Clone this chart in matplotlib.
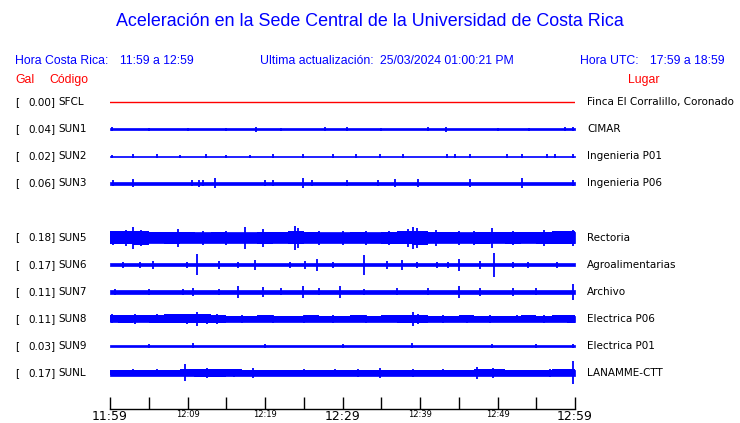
import matplotlib
matplotlib.use("Agg")
import matplotlib.pyplot as plt
from matplotlib.transforms import blended_transform_factory

# stations, top to bottom (row 4 is an empty slot, SUN4 not shown)
rows = [0, 1, 2, 3, 5, 6, 7, 8, 9, 10]
codes = ["SFCL", "SUN1", "SUN2", "SUN3", "SUN5", "SUN6", "SUN7", "SUN8", "SUN9", "SUNL"]
peaks = ["0.00", "0.04", "0.02", "0.06", "0.18", "0.17", "0.11", "0.11", "0.03", "0.17"]
places = ["Finca El Corralillo, Coronado", "CIMAR", "Ingenieria P01", "Ingenieria P06",
          "Rectoria", "Agroalimentarias", "Archivo", "Electrica P06", "Electrica P01",
          "LANAMME-CTT"]

# background noise half-width of each trace (pixels on the reference)
base = [0, 1.2, 0.6, 1.8, 5.5, 1.7, 2.2, 3.0, 1.3, 2.6]

# coarser envelope of the noisier traces, one value every 2 minutes (0..60)
env_minutes = list(range(0, 61, 2))
envelope = {
    "SUN5": [6.5, 6.5, 7.0, 5.5, 6.0, 5.5, 5.0, 5.5, 4.5, 5.0, 6.0, 5.5, 6.5, 5.5, 5.0, 5.0,
             5.5, 5.0, 6.0, 6.5, 7.0, 5.5, 5.5, 5.0, 6.0, 5.5, 6.0, 5.5, 6.0, 6.5, 6.5],
    "SUN8": [3.5, 4.0, 3.5, 4.0, 4.5, 4.5, 4.5, 4.0, 3.0, 3.0, 3.5, 3.0, 3.0, 3.5, 3.0, 3.0,
             3.5, 3.0, 3.5, 4.0, 4.0, 3.0, 3.0, 3.5, 3.0, 3.0, 3.0, 3.5, 3.0, 3.5, 4.0],
    "SUNL": [2.5, 2.5, 2.5, 2.5, 3.0, 3.5, 4.0, 4.0, 3.5, 3.0, 2.5, 3.0, 2.5, 2.5, 2.5, 3.0,
             3.0, 3.0, 3.0, 2.5, 2.5, 2.5, 2.5, 3.0, 3.5, 3.5, 3.0, 2.5, 3.0, 3.5, 3.5],
}

# bursts: (minutes after 11:59, half-amplitude in pixels)
bursts = {
    "SUN1": [(0.2, 1.8), (5, 1.6), (10, 1.6), (15, 1.5), (18.8, 2.5), (22, 1.6), (27.7, 2),
             (30.6, 2), (35, 1.6), (41.0, 2), (43.4, 2.5), (50, 1.6), (54, 1.6), (58.7, 1.8),
             (59.8, 1.8)],
    "SUN2": [(0.3, 1.3), (3.0, 2), (6.1, 2), (9, 1.4), (12.4, 2), (15, 1.4), (18, 1.4),
             (21.0, 2), (24.9, 2), (28.8, 2), (31.7, 2), (34.8, 2), (37.8, 2), (43.5, 2),
             (44.5, 2), (46.5, 2), (51.2, 2), (53.2, 2), (56.4, 2), (57.4, 2), (59.8, 2)],
    "SUN3": [(0.4, 3), (3.0, 4), (10.6, 3), (11.5, 3.5), (12, 3), (13.5, 5), (20, 3), (21.0, 3),
             (24.9, 5), (26, 3), (30.6, 3), (34.6, 3), (36.8, 4), (39.7, 4), (46.5, 4),
             (53.2, 5), (59.8, 3)],
    "SUN5": [(0.4, 7), (2, 8), (3.0, 11), (4, 8), (8.8, 9), (12, 7), (15, 7), (17.4, 11),
             (19.7, 9), (23.9, 12), (24.2, 10), (27, 7), (30, 7), (33, 7), (36, 7), (38.5, 9),
             (39.1, 11), (39.6, 10), (42, 8), (45, 7), (47, 7), (49.3, 10), (52, 7), (56, 8),
             (59.8, 8)],
    "SUN6": [(1.7, 3), (3.9, 3), (5.5, 4), (9.9, 3), (11.2, 10.5), (14.1, 4), (16.5, 3),
             (18.7, 5), (23.2, 3), (25.2, 4), (26.7, 6), (28.8, 3), (32.8, 10), (35.7, 4),
             (37.7, 5), (39.6, 3), (42.2, 3), (43.6, 3), (45.0, 6), (47.7, 4), (49.5, 12),
             (52.0, 3), (53.9, 3), (57.7, 3)],
    "SUN7": [(0.6, 3), (5, 3), (9.4, 3), (10.7, 4), (14, 3), (16.5, 6), (19.7, 5), (22, 3.5),
             (24.9, 6), (27, 3.5), (29.7, 6), (32.8, 3), (37, 3.5), (41, 3.5), (45.0, 6),
             (47.7, 4), (52.0, 4), (55, 3.5), (59.7, 8)],
    "SUN8": [(0.3, 4.5), (3.2, 5), (6.1, 4.5), (8, 4.5), (9.9, 5), (11.2, 7), (12.5, 5),
             (13.8, 5), (17, 4), (21.0, 4), (25, 4), (28.8, 4), (33, 4), (39.1, 7), (39.7, 5),
             (43, 4), (46.1, 4), (49, 4), (52.5, 3.5), (56, 4), (59.4, 4)],
    "SUN9": [(5, 1.8), (10.7, 2.5), (20, 1.8), (30, 1.8), (39.0, 2.5), (49.3, 2), (55, 1.8),
             (59.8, 1.8)],
    "SUNL": [(3, 3.5), (6, 3.5), (9.7, 8.5), (11, 4), (12.5, 5), (14, 4), (16, 4), (18.5, 5),
             (25, 3.5), (29, 3.5), (32.0, 4), (34.8, 5), (39.1, 4), (43, 3.5), (47.4, 6),
             (49.4, 5), (53.2, 3), (56.8, 4), (59.8, 11.5)],
}

tick_minutes = list(range(0, 61, 5))
tick_text = {0: "11:59", 10: "12:09", 20: "12:19", 30: "12:29", 40: "12:39", 50: "12:49", 60: "12:59"}

BLUE = "#0000ff"
RED = "#ff0000"
ROW_PX = 27.1  # pixels between two rows on the reference

W, H = 740, 423
fig = plt.figure(figsize=(W / 100, H / 100), dpi=100)
ax = fig.add_axes([110 / W, 1 - 409 / H, 465 / W, (409 - 88) / H])
ax.set_xlim(0, 60)
ax.set_ylim(11.33, -0.52)

for r, code, b in zip(rows, codes, base):
    if code == "SFCL":
        ax.plot([0, 60], [r, r], color=RED, lw=1)
        continue
    h = b / ROW_PX
    ax.fill_between([0, 60], r - h, r + h, color=BLUE, lw=0.5, edgecolor=BLUE)
    if code in envelope:
        e = [v / ROW_PX for v in envelope[code]]
        ax.fill_between(env_minutes, [r - v for v in e], [r + v for v in e],
                        step="mid", color=BLUE, lw=0)
    bt = [t for t, a in bursts.get(code, [])]
    ba = [a / ROW_PX for t, a in bursts.get(code, [])]
    ax.vlines(bt, [r - a for a in ba], [r + a for a in ba], color=BLUE, lw=1.3)

for s in ["top", "left", "right"]:
    ax.spines[s].set_visible(False)
ax.spines["bottom"].set_linewidth(1)
ax.set_yticks([])
ax.set_xticks(tick_minutes)
ax.set_xticklabels([tick_text.get(m, "") for m in tick_minutes])
ax.tick_params(axis="x", direction="in", length=9, width=1, pad=1)
for m, lab in zip(tick_minutes, ax.get_xticklabels()):
    lab.set_fontsize(9 if m in (0, 30, 60) else 6)

# row labels
tr = blended_transform_factory(fig.transFigure, ax.transData)
for r, code, pk, place in zip(rows, codes, peaks, places):
    ax.text(15 / W, r, "[", transform=tr, fontsize=7.5, va="center", ha="left")
    ax.text(28 / W, r, pk + "]", transform=tr, fontsize=7.5, va="center", ha="left")
    ax.text(58 / W, r, code, transform=tr, fontsize=7.5, va="center", ha="left")
    ax.text(587 / W, r, place, transform=tr, fontsize=7.5, va="center", ha="left")

# header
hf = "Liberation Sans"
fig.text(0.5, 1 - 22 / H, "Aceleración en la Sede Central de la Universidad de Costa Rica",
         ha="center", va="center", color=BLUE, fontsize=12.9, family=hf)
row_y = 1 - 61 / H
hs = 8.8
fig.text(15 / W, row_y, "Hora Costa Rica:", color=BLUE, fontsize=hs, family=hf, va="center")
fig.text(120 / W, row_y, "11:59 a 12:59", color=BLUE, fontsize=hs, family=hf, va="center")
fig.text(260 / W, row_y, "Ultima actualización:", color=BLUE, fontsize=hs, family=hf, va="center")
fig.text(380 / W, row_y, "25/03/2024 01:00:21 PM", color=BLUE, fontsize=hs, family=hf, va="center")
fig.text(580 / W, row_y, "Hora UTC:", color=BLUE, fontsize=hs, family=hf, va="center")
fig.text(650 / W, row_y, "17:59 a 18:59", color=BLUE, fontsize=hs, family=hf, va="center")
red_y = 1 - 80 / H
fig.text(15 / W, red_y, "Gal", color=RED, fontsize=hs, family=hf, va="center")
fig.text(49 / W, red_y, "Código", color=RED, fontsize=hs, family=hf, va="center")
fig.text(628 / W, red_y, "Lugar", color=RED, fontsize=hs, family=hf, va="center")

fig.savefig("out.png", dpi=100)
